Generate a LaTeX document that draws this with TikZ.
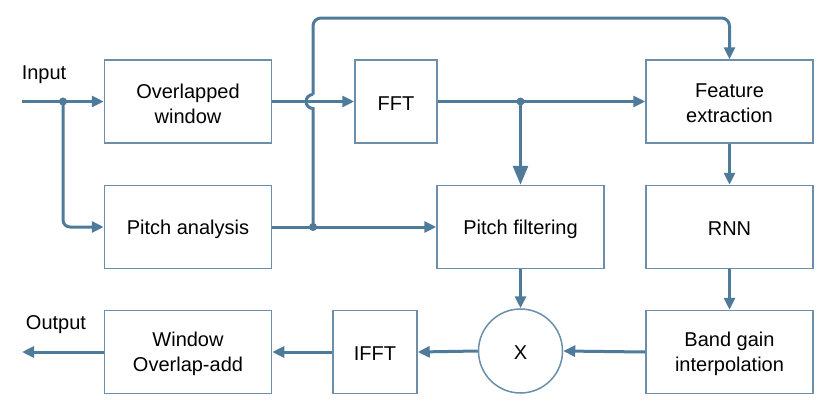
\documentclass[tikz,border=0pt]{standalone}
\usepackage{fontspec}
\setmainfont{Liberation Sans}
\usetikzlibrary{arrows.meta}
\definecolor{conncol}{HTML}{4F7B9B}
\definecolor{bordercol}{HTML}{6A8EAB}
\tikzset{
  box/.style={draw=bordercol, line width=1.5pt, minimum width=167pt, minimum height=83pt, inner sep=0pt},
  txt/.style={align=center, inner sep=0pt, font=\fontsize{20}{25}\selectfont, yshift=-2pt},
  conn/.style={draw=conncol, line width=3pt},
  tip/.style={-{Triangle[length=12pt,width=11pt]}},
  bigtip/.style={-{Triangle[length=19pt,width=15pt]}},
  lbl/.style={font=\fontsize{20}{25}\selectfont, inner sep=0pt},
  dotc/.style={fill=conncol}
}
\begin{document}
\begin{tikzpicture}[x=1pt,y=-1pt]
\useasboundingbox (0,0) rectangle (830,410);
% boxes
\node[box, label={[txt]center:Overlapped\\window}] (win) at (188,101.5) {};
\node[box, label={[txt]center:Pitch analysis}] (pitch) at (188,227) {};
\node[box, minimum width=82pt, label={[txt]center:FFT}] (fft) at (396,101.5) {};
\node[box, label={[txt]center:Pitch filtering}] (pf) at (520.5,227) {};
\node[box, label={[txt]center:Feature\\extraction}] (feat) at (729.5,101.5) {};
\node[box, label={[txt]center:RNN}] (rnn) at (729.5,227) {};
\node[box, label={[txt]center:Band gain\\interpolation}] (band) at (729.5,352) {};
\node[draw=bordercol, line width=1.5pt, circle, minimum size=84pt, inner sep=0pt, label={[txt]center:X}] (mult) at (520.5,351) {};
\node[box, minimum width=84pt, label={[txt]center:IFFT}] (ifft) at (375,352) {};
\node[box, label={[txt]center:Window\\Overlap-add}] (ola) at (188,352) {};
% labels
\node[lbl] (inlbl) at (44,75) {Input};
\node[lbl] (outlbl) at (56,325) {Output};
% coordinates
\coordinate (in) at (22,101.5);
\coordinate (out) at (22,352);
\coordinate (d1) at (63,101.5);
\coordinate (d2) at (313,227);
\coordinate (d3) at (520.5,101.5);
\coordinate (jb) at (313,108.5);
\coordinate (jt) at (313,94.5);
\coordinate (tr) at (729.5,18);
% connectors
\draw[conn,tip] (in) -- (win.west);
\draw[conn,tip,rounded corners=7pt] (d1) |- (pitch.west);
\draw[conn,tip] (win.east) -- (fft.west);
\draw[conn,tip] (pitch.east) -- (pf.west);
\draw[conn] (d2) -- (jb) arc[start angle=-90, end angle=-270, radius=7pt];
\draw[conn,tip,rounded corners=8pt] (jt) |- (tr) -- (feat.north);
\draw[conn,tip] (fft.east) -- (feat.west);
\draw[conn,bigtip] (d3) -- (pf.north);
\draw[conn,tip] (feat.south) -- (rnn.north);
\draw[conn,tip] (rnn.south) -- (band.north);
\draw[conn,tip] (band.west) -- (mult.east);
\draw[conn,tip] (pf.south) -- (mult.north);
\draw[conn,tip] (mult.west) -- (ifft.east);
\draw[conn,tip] (ifft.west) -- (ola.east);
\draw[conn,tip] (ola.west) -- (out);
% dots
\fill[dotc] (d1) circle[radius=4pt];
\fill[dotc] (d2) circle[radius=4pt];
\fill[dotc] (d3) circle[radius=4pt];
\end{tikzpicture}
\end{document}
